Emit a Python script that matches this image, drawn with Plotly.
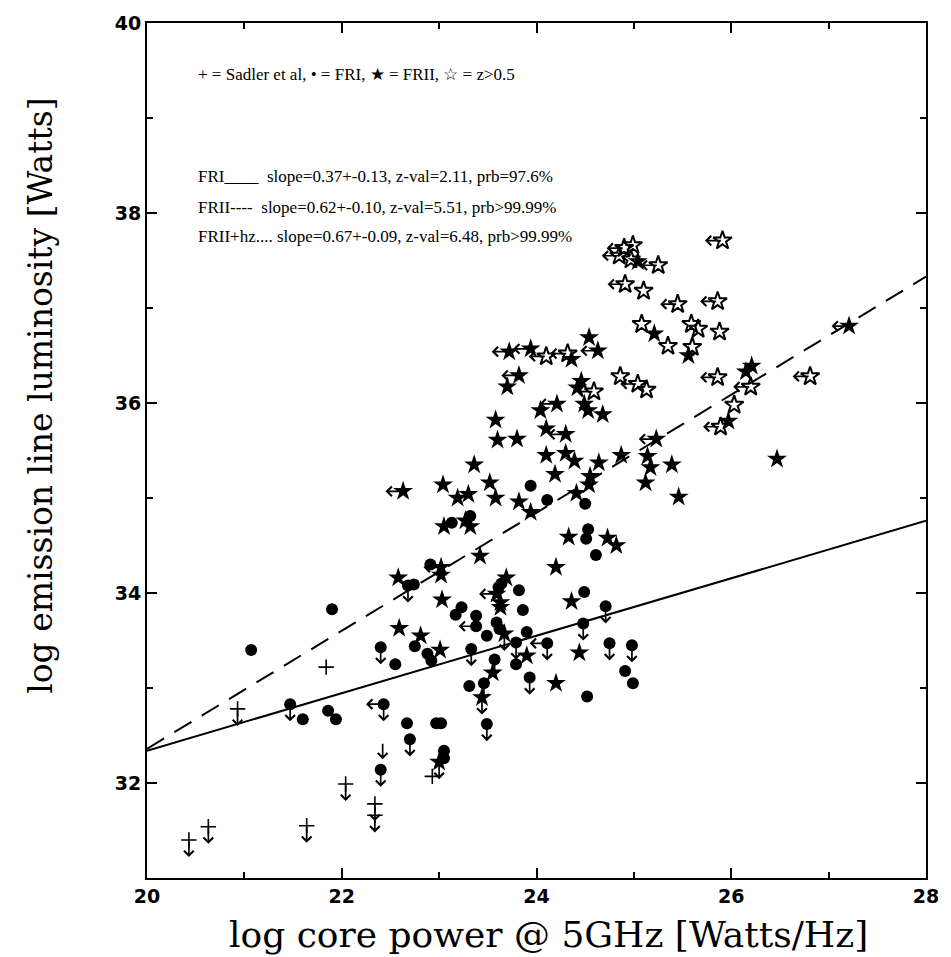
import plotly.graph_objects as go

# ---------------- data ----------------
sadler_x = [21.84, 22.93]
sadler_y = [33.22, 32.07]
sadler_lim_x = [20.43, 20.63, 20.93, 21.64, 22.04, 22.34, 22.34]
sadler_lim_y = [31.40, 31.54, 32.78, 31.55, 31.99, 31.78, 31.66]
bare_lim_x = [22.42]
bare_lim_y = [32.43]

fri_x = [21.07, 21.90, 21.60, 21.86, 21.94, 22.55, 22.67, 22.97, 23.02, 23.05, 23.05, 22.75, 22.88,
         22.92, 22.74, 23.17, 23.23, 23.49, 23.31, 23.59, 23.62, 23.82, 23.86, 23.90, 23.79, 24.11,
         24.50, 24.53, 24.51, 24.61, 24.49, 24.91, 24.99, 24.52, 23.94, 23.32, 23.13, 23.64, 23.61, 23.38, 22.91]
fri_y = [33.40, 33.83, 32.67, 32.76, 32.67, 33.25, 32.63, 32.63, 32.63, 32.34, 32.26, 33.44, 33.36,
         33.29, 34.09, 33.77, 33.85, 33.55, 33.02, 33.69, 33.62, 34.03, 33.82, 33.59, 33.25, 34.98,
         34.94, 34.67, 34.57, 34.40, 34.01, 33.18, 33.05, 32.91, 35.13, 34.81, 34.74, 34.10, 34.06, 33.76, 34.30]
fri_ul_x = [21.47, 22.40, 22.70, 22.40, 22.68, 23.33, 23.46, 23.49, 23.57, 23.79, 23.93, 24.71, 24.48, 24.75, 24.98]
fri_ul_y = [32.83, 33.43, 32.46, 32.14, 34.08, 33.41, 33.05, 32.62, 33.30, 33.48, 33.11, 33.86, 33.68, 33.47, 33.45]
fri_ul_left_x = [22.43, 24.11]
fri_ul_left_y = [32.83, 33.47]
fri_left_x = [23.38]
fri_left_y = [33.65]

frii_x = [23.42, 22.58, 23.02, 23.03, 22.59, 22.81, 23.01, 23.69, 23.63, 23.63, 23.90, 23.55, 24.20, 24.36,
          24.20, 24.44, 24.41, 24.54, 25.12, 25.46, 24.33, 24.73, 24.82, 23.04, 23.36, 23.52, 23.19, 23.30,
          23.58, 23.82, 23.94, 24.19, 24.10, 24.30, 23.05, 23.27, 23.32, 24.54, 25.21, 24.36, 23.70, 24.46,
          24.42, 24.04, 24.49, 24.53, 24.68, 23.58, 23.60, 23.80, 24.10, 24.39, 24.64, 24.87, 25.14, 25.17,
          25.39, 24.55, 25.04, 25.56, 26.15, 26.21, 25.97, 26.47]
frii_y = [34.39, 34.16, 34.19, 33.93, 33.63, 33.55, 33.40, 34.16, 33.90, 33.85, 33.34, 33.16, 33.05, 33.91,
          34.27, 33.37, 35.05, 35.14, 35.16, 35.01, 34.59, 34.58, 34.50, 35.14, 35.35, 35.16, 35.00, 35.04,
          35.00, 34.96, 34.85, 35.25, 35.45, 35.47, 34.70, 34.76, 34.70, 36.69, 36.73, 36.46, 36.17, 36.23,
          36.16, 35.92, 35.99, 35.92, 35.88, 35.82, 35.61, 35.62, 35.73, 35.39, 35.37, 35.45, 35.44, 35.32,
          35.35, 35.23, 37.49, 36.50, 36.33, 36.39, 35.81, 35.41]
frii_ul_x = [23.00, 23.44, 23.67]
frii_ul_y = [32.22, 32.90, 33.57]
frii_left_x = [23.02, 22.63, 23.59, 23.72, 23.94, 24.63, 23.82, 24.21, 24.30, 25.23, 27.21]
frii_left_y = [34.27, 35.07, 33.99, 36.54, 36.57, 36.55, 36.29, 35.99, 35.67, 35.62, 36.81]

hz_x = [25.35, 25.08, 24.99, 24.97, 25.10, 25.59, 25.66, 25.88, 25.60, 24.86, 25.13, 26.03]
hz_y = [36.60, 36.83, 37.66, 37.51, 37.18, 36.83, 36.78, 36.75, 36.59, 36.28, 36.14, 35.98]
hz_left_x = [24.10, 24.32, 24.59, 25.04, 25.91, 24.90, 24.85, 25.25, 24.91, 25.45, 25.86, 25.86, 26.81, 26.20, 25.89]
hz_left_y = [36.49, 36.52, 36.12, 36.20, 37.71, 37.63, 37.55, 37.45, 37.25, 37.04, 37.07, 36.27, 36.28, 36.17, 35.75]

fit_x = [20, 28]
fri_fit_y = [32.34, 34.76]
frii_fit_y = [32.36, 37.33]

legend_lines = [
    "+ = Sadler et al, \u2022 = FRI, \u2605 = FRII, \u2606 = z>0.5",
    "FRI____  slope=0.37+-0.13, z-val=2.11, prb=97.6%",
    "FRII----  slope=0.62+-0.10, z-val=5.51, prb>99.99%",
    "FRII+hz.... slope=0.67+-0.09, z-val=6.48, prb>99.99%",
]
legend_y = [39.46, 38.38, 38.06, 37.75]

DOWN = 0.18   # arrow length in y units
LEFT = 0.18   # arrow length in x units

fig = go.Figure()

fig.add_trace(go.Scatter(x=fit_x, y=fri_fit_y, mode="lines", line=dict(color="black", width=2)))
fig.add_trace(go.Scatter(x=fit_x, y=frii_fit_y, mode="lines",
                         line=dict(color="black", width=2, dash="20px,12px")))

def pts(xs, ys, symbol, size, lw=0):
    fig.add_trace(go.Scatter(x=xs, y=ys, mode="markers",
                             marker=dict(symbol=symbol, size=size, color="black",
                                         line=dict(color="black", width=lw))))

pts(fri_x + fri_ul_x + fri_ul_left_x + fri_left_x, fri_y + fri_ul_y + fri_ul_left_y + fri_left_y, "circle", 12)
pts(frii_x + frii_ul_x + frii_left_x, frii_y + frii_ul_y + frii_left_y, "star", 15)
pts(hz_x + hz_left_x, hz_y + hz_left_y, "star-open", 14, 2)
pts(sadler_x + sadler_lim_x, sadler_y + sadler_lim_y, "cross-thin", 11, 1.6)

ann = []
def arrow(x0, y0, x1, y1):
    ann.append(dict(x=x1, y=y1, ax=x0, ay=y0, xref="x", yref="y", axref="x", ayref="y",
                    text="", showarrow=True, arrowhead=4, arrowsize=1.1, arrowwidth=1.7,
                    arrowcolor="black", standoff=0, startstandoff=0))

for xs, ys in [(fri_ul_x, fri_ul_y), (fri_ul_left_x, fri_ul_left_y), (frii_ul_x, frii_ul_y),
               (sadler_lim_x, sadler_lim_y), (bare_lim_x, bare_lim_y)]:
    for x, y in zip(xs, ys):
        arrow(x, y, x, y - DOWN)
for xs, ys in [(fri_ul_left_x, fri_ul_left_y), (fri_left_x, fri_left_y), (frii_left_x, frii_left_y),
               (hz_left_x, hz_left_y)]:
    for x, y in zip(xs, ys):
        arrow(x, y, x - LEFT, y)

for t, y in zip(legend_lines, legend_y):
    ann.append(dict(x=20.5, y=y, xref="x", yref="y", text=t, showarrow=False, xanchor="left",
                    yanchor="middle", font=dict(family="Liberation Serif", size=17, color="black")))

ann.append(dict(x=0.515, y=-0.066, xref="paper", yref="paper", text="log core power @ 5GHz [Watts/Hz]",
                showarrow=False, xanchor="center", yanchor="middle",
                font=dict(family="DejaVu Serif", size=36, color="black")))
ann.append(dict(x=-0.136, y=0.564, xref="paper", yref="paper", text="log emission line luminosity [Watts]",
                showarrow=False, xanchor="center", yanchor="middle", textangle=-90,
                font=dict(family="DejaVu Serif", size=33, color="black")))

axis_common = dict(showgrid=False, zeroline=False, showline=True, linecolor="black", linewidth=2,
                   mirror="ticks", ticks="inside", ticklen=10, tickwidth=1.5, tickcolor="black",
                   tickfont=dict(family="DejaVu Sans", size=19, color="black", weight="bold"))

fig.update_xaxes(range=[20, 28], tick0=20, dtick=2,
                 minor=dict(dtick=1, ticks="inside", ticklen=6, tickwidth=1.5, tickcolor="black"),
                 **axis_common)
fig.update_yaxes(range=[31, 40], tick0=32, dtick=2,
                 minor=dict(tick0=31, dtick=1, ticks="inside", ticklen=6, tickwidth=1.5, tickcolor="black"),
                 **axis_common)

fig.update_layout(width=951, height=957, margin=dict(l=147, r=17, t=20, b=79),
                  paper_bgcolor="white", plot_bgcolor="white", showlegend=False,
                  annotations=ann)

fig.write_html("out.html")
